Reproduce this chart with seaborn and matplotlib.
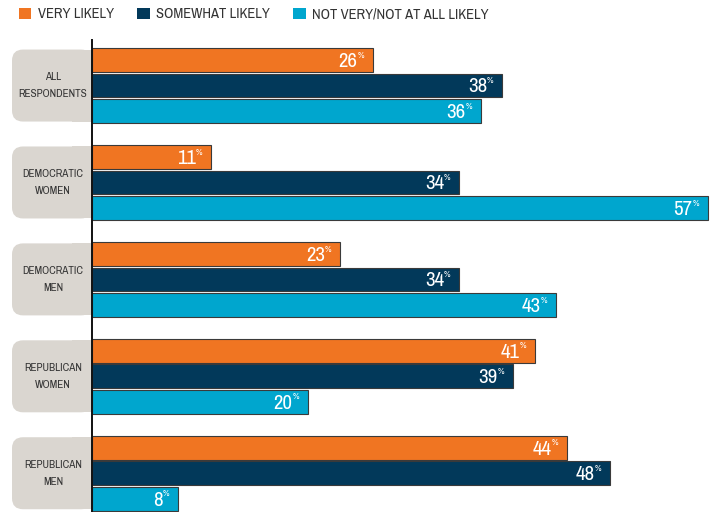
import matplotlib
matplotlib.use("Agg")
import matplotlib.pyplot as plt
import matplotlib.patches as mpatches
import matplotlib.transforms as mtransforms
from matplotlib import font_manager
import pandas as pd
import seaborn as sns

# data
groups = ["ALL\nRESPONDENTS", "DEMOCRATIC\nWOMEN", "DEMOCRATIC\nMEN",
          "REPUBLICAN\nWOMEN", "REPUBLICAN\nMEN"]
answers = ["VERY LIKELY", "SOMEWHAT LIKELY", "NOT VERY/NOT AT ALL LIKELY"]
very_likely = [26, 11, 23, 41, 44]
somewhat_likely = [38, 34, 34, 39, 48]
not_likely = [36, 57, 43, 20, 8]

colors = ["#f07522", "#02395a", "#00a6ce"]
BOX_GREY = "#dad6d0"
TEXT = "#333333"

sns.set_theme(style="white")

# look for a narrow face, the original uses a condensed gothic
narrow = [f.name for f in font_manager.fontManager.ttflist
          if "Narrow" in f.name or "Condensed" in f.name]
stretch = "normal"
if narrow:
    family = [narrow[0], "DejaVu Sans"]
else:
    family = ["DejaVu Sans"]
    stretch = "condensed"
plt.rcParams["font.family"] = family
plt.rcParams["font.stretch"] = stretch

df = pd.DataFrame({
    "group": groups * 3,
    "answer": [answers[0]] * 5 + [answers[1]] * 5 + [answers[2]] * 5,
    "pct": very_likely + somewhat_likely + not_likely,
})

W, H = 715, 512
fig = plt.figure(figsize=(W / 100, H / 100), dpi=100)
ax = fig.add_axes([92 / W, 0, 1 - 92 / W, 472 / H])

sns.barplot(data=df, y="group", x="pct", hue="answer", order=groups,
            hue_order=answers, palette=colors, saturation=1, width=0.79, gap=0.07,
            edgecolor="#3a3a3a", linewidth=0.8, legend=False, ax=ax)

ax.set_xlim(0, (W - 92) / 10.8)
ax.set_ylim(4.4, -0.47)
ax.set_xlabel("")
ax.set_ylabel("")
ax.set_xticks([])
ax.set_yticks([])
for side in ["top", "right", "bottom"]:
    ax.spines[side].set_visible(False)
ax.spines["left"].set_color("#111111")
ax.spines["left"].set_linewidth(1.4)
ax.spines["left"].set_zorder(5)

# value labels at bar ends
for cont in ax.containers:
    for bar in cont:
        w = bar.get_width()
        yc = bar.get_y() + bar.get_height() / 2
        ax.annotate(f"{w:.0f}", (w, yc), xytext=(-11, -1), textcoords="offset points",
                    ha="right", va="center", color="white", fontsize=15)
        ax.annotate("%", (w, yc), xytext=(-11, 3.5), textcoords="offset points",
                    ha="left", va="center", color="white", fontsize=6.5)

# grey rounded label boxes on the left
for i, g in enumerate(groups):
    yc = ax.transData.transform((0, i))[1]
    x0, x1 = 12, 92
    h = 72
    box = mpatches.FancyBboxPatch((x0, yc - h / 2), x1 - x0, h,
                                  boxstyle="round,pad=0,rounding_size=11",
                                  transform=mtransforms.IdentityTransform(),
                                  facecolor=BOX_GREY, edgecolor="none", zorder=0)
    fig.add_artist(box)
    sq = mpatches.Rectangle((x1 - 20, yc - h / 2), 20, h,
                            transform=mtransforms.IdentityTransform(),
                            facecolor=BOX_GREY, edgecolor="none", zorder=0)
    fig.add_artist(sq)
    fig.text(53 / W, yc / H, g, ha="center", va="center", fontsize=8,
             color=TEXT, linespacing=1.85)

# legend across the top
handles = [mpatches.Patch(facecolor=c, edgecolor="none") for c in colors]
fig.legend(handles, answers, loc="upper left", bbox_to_anchor=(0.008, 1.011),
           ncol=3, frameon=False, fontsize=10.5, handlelength=0.85, handleheight=0.85,
           handletextpad=0.45, columnspacing=1.6, labelcolor=TEXT)

fig.savefig("out.png", dpi=100)
